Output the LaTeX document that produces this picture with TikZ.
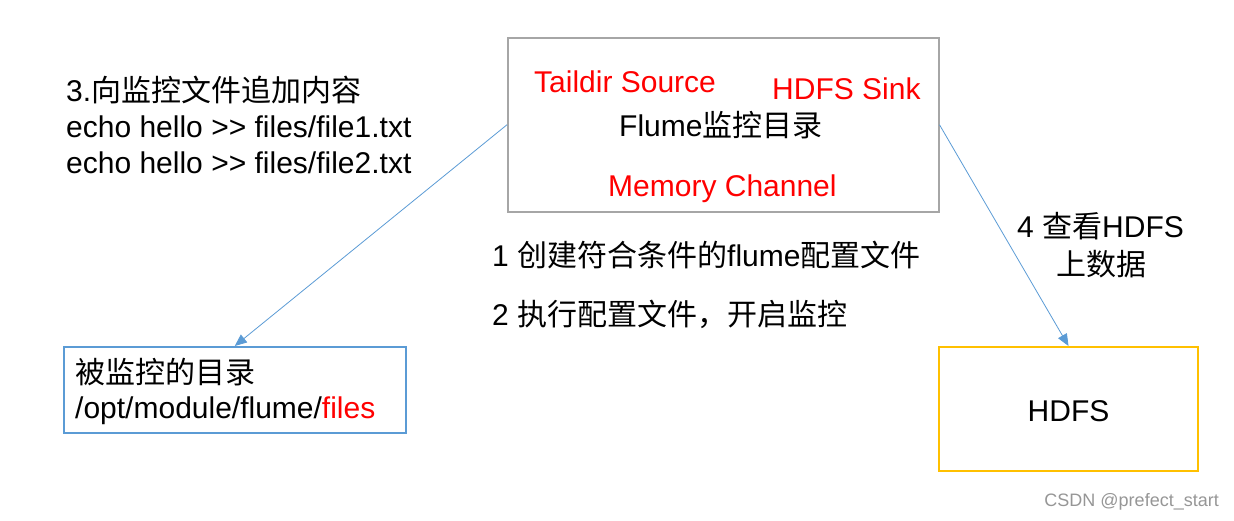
\documentclass[tikz,border=0pt]{standalone}
\usepackage{fontspec}
\setmainfont{Liberation Sans}
\newfontfamily\cjk{Noto Sans CJK SC}
\usetikzlibrary{positioning,arrows.meta}
\definecolor{boxgray}{RGB}{166,166,166}
\definecolor{linkblue}{RGB}{91,155,213}
\definecolor{hdfsyellow}{RGB}{255,192,0}
\definecolor{markgray}{RGB}{150,150,150}
\tikzset{
txt/.style={inner sep=0pt, font=\fontsize{30}{36}\selectfont},
lbl/.style={txt, anchor=base west},
box/.style={line width=1.5pt, anchor=north west},
link/.style={draw=linkblue, line width=0.8pt, ->}
}

\begin{document}
\begin{tikzpicture}[>={Triangle[length=12pt,width=10pt]},x=1pt,y=-1pt]
\useasboundingbox (0,0) rectangle (1234,520);

% flume agent
\node[box, draw=boxgray, minimum width=431pt, minimum height=174pt] (flume) at (507,37) {};
\node[lbl, text=red] (source) at (534,92) {Taildir Source};
\node[lbl, text=red] (sink) at (772,99) {HDFS Sink};
\node[lbl] (title) at (619,136) {Flume{\cjk 监控目录}};
\node[lbl, text=red] (channel) at (608,196) {Memory Channel};

% steps
\node[lbl] (step3) at (66,101) {3.{\cjk 向监控文件追加内容}};
\node[lbl] (echo1) at (66,137) {echo hello >\kern0pt> files/file1.txt};
\node[lbl] (echo2) at (66,173) {echo hello >\kern0pt> files/file2.txt};
\node[lbl] (step1) at (492,266) {1 {\cjk 创建符合条件的}flume{\cjk 配置文件}};
\node[lbl] (step2) at (492,325) {2 {\cjk 执行配置文件，开启监控}};
\node[lbl] (step4) at (1017,237) {4 {\cjk 查看}HDFS};
\node[lbl] (step4b) at (1056,275) {{\cjk 上数据}};

% monitored dir
\node[box, draw=linkblue, minimum width=342pt, minimum height=86pt] (dir) at (63,346) {};
\node[lbl] (dirname) at (75,383) {{\cjk 被监控的目录}};
\node[lbl] (dirpath) at (75,418) {/opt/module/flume/\textcolor{red}{files}};

% hdfs
\node[box, draw=hdfsyellow, line width=2pt, minimum width=259pt, minimum height=124pt] (hdfs) at (938,346) {};
\node[txt] (hdfslbl) at ([yshift=-2pt]hdfs.center) {HDFS};

\draw[link] (flume.west) -- (dir.north);
\draw[link] (flume.east) -- (hdfs.north);

\node[anchor=base east, inner sep=0pt, text=markgray, font=\fontsize{18}{21}\selectfont] (mark) at (1219,506) {CSDN @prefect\_start};
\end{tikzpicture}
\end{document}
